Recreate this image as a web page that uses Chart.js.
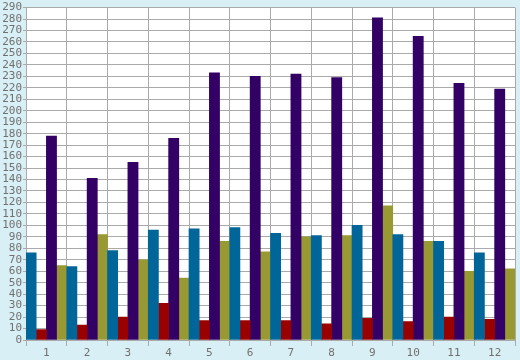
<!DOCTYPE html>
<html>
<head>
<meta charset="utf-8">
<script src="https://cdn.jsdelivr.net/npm/chart.js@4"></script>
<style>
  html, body { margin: 0; padding: 0; background: #d9eff6; }
  #wrap { width: 520px; height: 360px; position: relative; }
</style>
</head>
<body>
<div id="wrap"><canvas id="c" width="520" height="360"></canvas></div>
<script>
const categories = ["1","2","3","4","5","6","7","8","9","10","11","12"];
const seriesTeal   = [76, 64, 78, 96, 97, 98, 93, 91, 100, 92, 86, 76];
const seriesRed    = [9, 13, 20, 32, 17, 17, 17, 14, 19, 16, 20, 18];
const seriesPurple = [178, 141, 155, 176, 233, 230, 232, 229, 281, 265, 224, 219];
const seriesOlive  = [65, 92, 70, 54, 86, 77, 90, 91, 117, 86, 60, 62];
const yMin = 0, yMax = 290, yStep = 10;

const plotBg = {
  id: 'plotBg',
  beforeDraw(chart) {
    const {ctx, chartArea: a} = chart;
    ctx.save();
    ctx.fillStyle = '#d9eff6';
    ctx.fillRect(0, 0, chart.width, chart.height);
    ctx.fillStyle = '#ffffff';
    ctx.fillRect(a.left, a.top, a.right - a.left, a.bottom - a.top);
    ctx.restore();
  }
};

const font = { family: 'DejaVu Sans Mono', size: 11 };
new Chart(document.getElementById('c'), {
  type: 'bar',
  data: {
    labels: categories,
    datasets: [
      { data: seriesTeal, backgroundColor: '#006699' },
      { data: seriesRed, backgroundColor: '#990000' },
      { data: seriesPurple, backgroundColor: '#330066' },
      { data: seriesOlive, backgroundColor: '#999933' }
    ]
  },
  options: {
    responsive: false,
    animation: false,
    layout: { padding: { top: 2, right: 5, left: 0, bottom: 0 } },
    plugins: { legend: { display: false }, tooltip: { enabled: false } },
    datasets: { bar: { barPercentage: 1, categoryPercentage: 1, borderWidth: 0 } },
    scales: {
      x: {
        offset: true,
        grid: { offset: true, color: '#aaaaaa', lineWidth: 1, tickLength: 6, drawTicks: true },
        border: { color: '#aaaaaa' },
        ticks: { color: '#707070', font: font, padding: 1, maxRotation: 0 },
        afterFit(s) { s.height = 20; }
      },
      y: {
        min: yMin, max: yMax,
        grid: { color: '#aaaaaa', lineWidth: 1, tickLength: 3 },
        border: { color: '#aaaaaa' },
        ticks: { stepSize: yStep, autoSkip: false, color: '#707070', font: font, padding: 1 },
        afterFit(s) { s.width = 26; }
      }
    }
  },
  plugins: [plotBg]
});
</script>
</body>
</html>
